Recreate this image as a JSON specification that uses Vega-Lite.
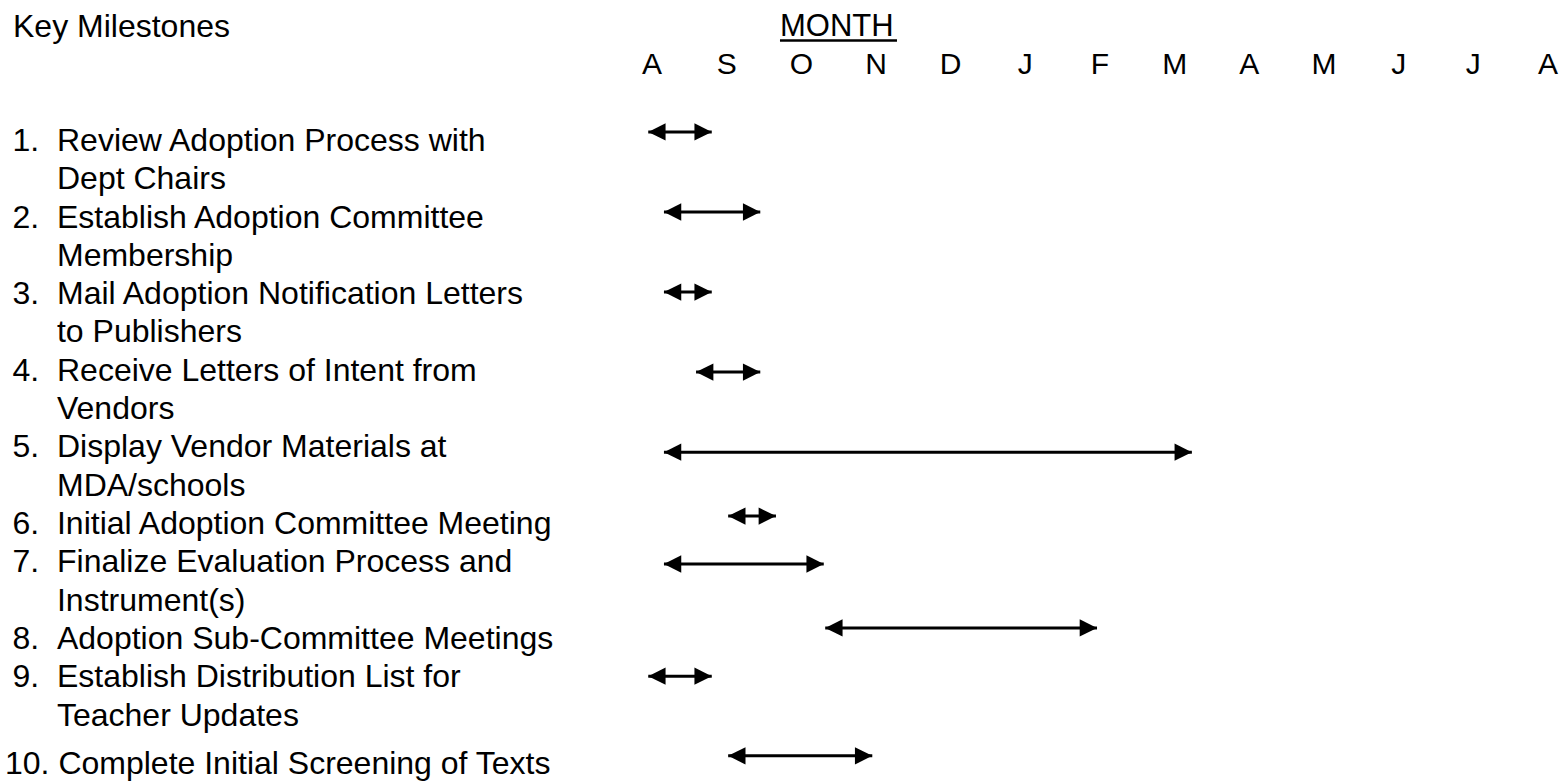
{
  "$schema": "https://vega.github.io/schema/vega-lite/v6.json",
  "width": 1564,
  "height": 781,
  "autosize": {"type": "none"},
  "padding": 0,
  "background": "white",
  "config": {"view": {"stroke": null}, "font": "Liberation Sans"},
  "datasets": {
    "items": [
      {"id": 1, "num": "1.", "label": ["Review Adoption Process with", "Dept Chairs"], "line": 0, "lane": -0.21, "start": -0.05, "end": 0.8},
      {"id": 2, "num": "2.", "label": ["Establish Adoption Committee", "Membership"], "line": 2, "lane": 1.88, "start": 0.16, "end": 1.45},
      {"id": 3, "num": "3.", "label": ["Mail Adoption Notification Letters", "to Publishers"], "line": 4, "lane": 3.97, "start": 0.16, "end": 0.8},
      {"id": 4, "num": "4.", "label": ["Receive Letters of Intent from", "Vendors"], "line": 6, "lane": 6.06, "start": 0.59, "end": 1.45},
      {"id": 5, "num": "5.", "label": ["Display Vendor Materials at", "MDA/schools"], "line": 8, "lane": 8.15, "start": 0.16, "end": 7.23},
      {"id": 6, "num": "6.", "label": ["Initial Adoption Committee Meeting"], "line": 10, "lane": 9.82, "start": 1.02, "end": 1.66},
      {"id": 7, "num": "7.", "label": ["Finalize Evaluation Process and", "Instrument(s)"], "line": 11, "lane": 11.07, "start": 0.16, "end": 2.3},
      {"id": 8, "num": "8.", "label": ["Adoption Sub-Committee Meetings"], "line": 13, "lane": 12.74, "start": 2.32, "end": 5.96},
      {"id": 9, "num": "9.", "label": ["Establish Distribution List for", "Teacher Updates"], "line": 14, "lane": 14.0, "start": -0.05, "end": 0.8},
      {"id": 10, "num": "10.", "label": ["Complete Initial Screening of Texts"], "line": 16.27, "lane": 16.08, "start": 1.02, "end": 2.95}
    ],
    "months": [
      {"i": 0, "m": "A"}, {"i": 1, "m": "S"}, {"i": 2, "m": "O"}, {"i": 3, "m": "N"},
      {"i": 4, "m": "D"}, {"i": 5, "m": "J"}, {"i": 6, "m": "F"}, {"i": 7, "m": "M"},
      {"i": 8, "m": "A"}, {"i": 9, "m": "M"}, {"i": 10, "m": "J"}, {"i": 11, "m": "J"},
      {"i": 12, "m": "A"}
    ]
  },
  "layer": [
    {
      "data": {"name": "items"},
      "mark": {"type": "rule", "color": "black", "strokeWidth": 3},
      "encoding": {
        "x": {"field": "start", "type": "quantitative", "scale": {"domain": [-8.732, 12.214], "nice": false, "zero": false}, "axis": null},
        "x2": {"field": "end"},
        "y": {"field": "lane", "type": "quantitative", "scale": {"domain": [-3.655, 16.736], "nice": false, "zero": false, "reverse": true}, "axis": null}
      }
    },
    {
      "data": {"name": "items"},
      "mark": {"type": "point", "shape": "M0,0L2,-1L2,1Z", "size": 300, "filled": true, "color": "black", "opacity": 1, "strokeWidth": 0},
      "encoding": {
        "x": {"field": "start", "type": "quantitative", "scale": {"domain": [-8.732, 12.214], "nice": false, "zero": false}, "axis": null},
        "y": {"field": "lane", "type": "quantitative", "scale": {"domain": [-3.655, 16.736], "nice": false, "zero": false, "reverse": true}, "axis": null}
      }
    },
    {
      "data": {"name": "items"},
      "mark": {"type": "point", "shape": "M0,0L-2,-1L-2,1Z", "size": 300, "filled": true, "color": "black", "opacity": 1, "strokeWidth": 0},
      "encoding": {
        "x": {"field": "end", "type": "quantitative", "scale": {"domain": [-8.732, 12.214], "nice": false, "zero": false}, "axis": null},
        "y": {"field": "lane", "type": "quantitative", "scale": {"domain": [-3.655, 16.736], "nice": false, "zero": false, "reverse": true}, "axis": null}
      }
    },
    {
      "data": {"name": "items"},
      "transform": [{"filter": "datum.id < 10"}],
      "mark": {"type": "text", "align": "left", "baseline": "alphabetic", "dy": 11, "fontSize": 32, "color": "black"},
      "encoding": {
        "x": {"datum": -8.564, "type": "quantitative", "scale": {"domain": [-8.732, 12.214], "nice": false, "zero": false}, "axis": null},
        "y": {"field": "line", "type": "quantitative", "scale": {"domain": [-3.655, 16.736], "nice": false, "zero": false, "reverse": true}, "axis": null},
        "text": {"field": "num"}
      }
    },
    {
      "data": {"name": "items"},
      "transform": [{"filter": "datum.id < 10"}],
      "mark": {"type": "text", "align": "left", "baseline": "alphabetic", "dy": 11, "fontSize": 32, "lineHeight": 38.3, "color": "black"},
      "encoding": {
        "x": {"datum": -7.969, "type": "quantitative", "scale": {"domain": [-8.732, 12.214], "nice": false, "zero": false}, "axis": null},
        "y": {"field": "line", "type": "quantitative", "scale": {"domain": [-3.655, 16.736], "nice": false, "zero": false, "reverse": true}, "axis": null},
        "text": {"field": "label"}
      }
    },
    {
      "data": {"name": "items"},
      "transform": [{"filter": "datum.id == 10"}, {"calculate": "datum.num + ' ' + datum.label[0]", "as": "full"}],
      "mark": {"type": "text", "align": "left", "baseline": "alphabetic", "dy": 11, "fontSize": 32, "color": "black"},
      "encoding": {
        "x": {"datum": -8.665, "type": "quantitative", "scale": {"domain": [-8.732, 12.214], "nice": false, "zero": false}, "axis": null},
        "y": {"field": "line", "type": "quantitative", "scale": {"domain": [-3.655, 16.736], "nice": false, "zero": false, "reverse": true}, "axis": null},
        "text": {"field": "full"}
      }
    },
    {
      "data": {"name": "months"},
      "mark": {"type": "text", "align": "center", "baseline": "alphabetic", "dy": 11, "fontSize": 30, "color": "black"},
      "encoding": {
        "x": {"field": "i", "type": "quantitative", "scale": {"domain": [-8.732, 12.214], "nice": false, "zero": false}, "axis": null},
        "y": {"datum": -2.01, "type": "quantitative", "scale": {"domain": [-3.655, 16.736], "nice": false, "zero": false, "reverse": true}, "axis": null},
        "text": {"field": "m"}
      }
    },
    {
      "data": {"values": [{"t": "Key Milestones"}]},
      "mark": {"type": "text", "align": "left", "baseline": "alphabetic", "dy": 11, "fontSize": 32, "color": "black"},
      "encoding": {
        "x": {"datum": -8.558, "type": "quantitative", "scale": {"domain": [-8.732, 12.214], "nice": false, "zero": false}, "axis": null},
        "y": {"datum": -2.977, "type": "quantitative", "scale": {"domain": [-3.655, 16.736], "nice": false, "zero": false, "reverse": true}, "axis": null},
        "text": {"field": "t"}
      }
    },
    {
      "data": {"values": [{"t": "MONTH"}]},
      "mark": {"type": "text", "align": "left", "baseline": "alphabetic", "dy": 11, "fontSize": 31, "color": "black"},
      "encoding": {
        "x": {"datum": 1.714, "type": "quantitative", "scale": {"domain": [-8.732, 12.214], "nice": false, "zero": false}, "axis": null},
        "y": {"datum": -3.0, "type": "quantitative", "scale": {"domain": [-3.655, 16.736], "nice": false, "zero": false, "reverse": true}, "axis": null},
        "text": {"field": "t"}
      }
    },
    {
      "data": {"values": [{"a": 1.714, "b": 3.281, "y": -2.598}]},
      "mark": {"type": "rule", "color": "black", "strokeWidth": 2.5},
      "encoding": {
        "x": {"field": "a", "type": "quantitative", "scale": {"domain": [-8.732, 12.214], "nice": false, "zero": false}, "axis": null},
        "x2": {"field": "b"},
        "y": {"field": "y", "type": "quantitative", "scale": {"domain": [-3.655, 16.736], "nice": false, "zero": false, "reverse": true}, "axis": null}
      }
    }
  ]
}
